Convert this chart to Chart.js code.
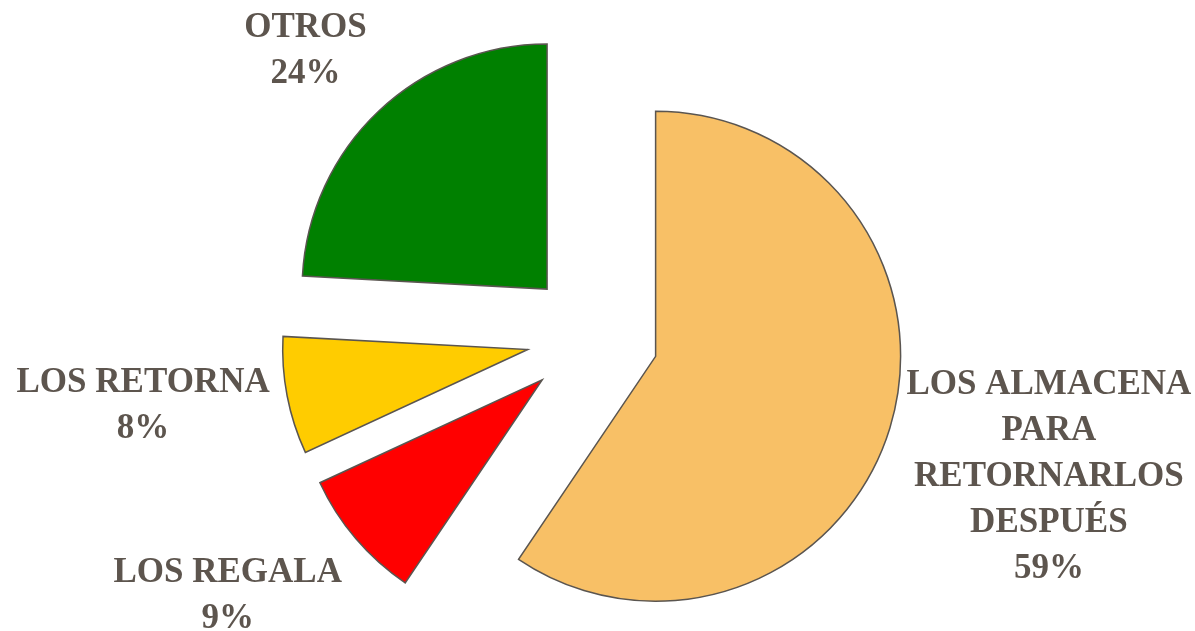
<!DOCTYPE html>
<html>
<head>
<meta charset="utf-8">
<title>Pie</title>
<script src="https://cdn.jsdelivr.net/npm/chart.js@4.4.0/dist/chart.umd.min.js"></script>
<style>
  html, body { margin: 0; padding: 0; background: #fff; }
  #wrap { width: 1195px; height: 631px; position: relative; }
</style>
</head>
<body>
<div id="wrap"><canvas id="pieChart"></canvas></div>
<script>
// data
const categories = [
    ['LOS ALMACENA', 'PARA', 'RETORNARLOS', 'DESPUÉS'],
    ['LOS REGALA'],
    ['LOS RETORNA'],
    ['OTROS']
];
const shares = [59.45, 8.65, 7.75, 24.15];
const sliceColors = ['#F8C066', '#FF0000', '#FFCC00', '#008000'];

// layout of the exploded slices and their labels
const explode = [66, 66, 66, 66];
const labelShift = [[159, 46], [-128, 54], [-144, 7], [-73, -63]];
const lineGap = 46;

const explodePlugin = {
    id: 'explode',
    afterDatasetUpdate(chart, args) {
        args.meta.data.forEach((arc, i) => {
            const mid = (arc.startAngle + arc.endAngle) / 2;
            arc.x += Math.cos(mid) * explode[i];
            arc.y += Math.sin(mid) * explode[i];
        });
    }
};

const outsideLabels = {
    id: 'outsideLabels',
    afterDatasetsDraw(chart) {
        const ctx = chart.ctx;
        const arcs = chart.getDatasetMeta(0).data;
        const total = shares.reduce((a, b) => a + b, 0);
        ctx.save();
        ctx.font = 'bold 35px "Liberation Serif"';
        ctx.fillStyle = '#5d554e';
        ctx.textAlign = 'center';
        ctx.textBaseline = 'alphabetic';
        arcs.forEach((arc, i) => {
            const mid = (arc.startAngle + arc.endAngle) / 2;
            const cx = arc.x + Math.cos(mid) * arc.outerRadius + labelShift[i][0];
            const cy = arc.y + Math.sin(mid) * arc.outerRadius + labelShift[i][1];
            const lines = categories[i].concat([Math.round(shares[i] / total * 100) + '%']);
            lines.forEach((t, k) => {
                ctx.fillText(t, cx, cy + (k - (lines.length - 1) / 2) * lineGap + 12);
            });
        });
        ctx.restore();
    }
};

const ctx = document.getElementById('pieChart').getContext('2d');

new Chart(ctx, {
    type: 'pie',
    data: {
        labels: categories.map(l => l.join(' ')),
        datasets: [{
            data: shares,
            backgroundColor: sliceColors,
            borderColor: '#5a5550',
            borderWidth: 1.5,
            borderJoinStyle: 'miter',
            radius: 245
        }]
    },
    options: {
        responsive: true,
        maintainAspectRatio: false,
        animation: false,
        events: [],
        layout: {
            padding: { top: 43, left: 0, right: 10, bottom: 0 }
        },
        plugins: {
            legend: { display: false },
            tooltip: { enabled: false }
        }
    },
    plugins: [explodePlugin, outsideLabels]
});
</script>
</body>
</html>
